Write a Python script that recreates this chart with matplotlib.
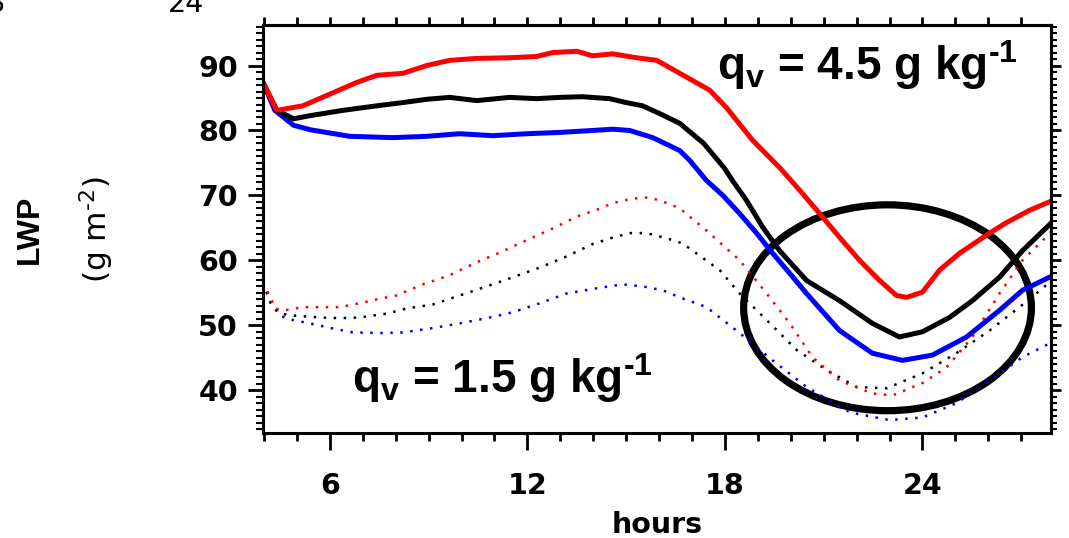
import matplotlib.pyplot as plt
from matplotlib.patches import Ellipse
from matplotlib.ticker import MultipleLocator, NullFormatter

plt.rcParams['font.family'] = 'DejaVu Sans'
plt.rcParams['font.weight'] = 'bold'
plt.rcParams['mathtext.fontset'] = 'custom'
plt.rcParams['mathtext.rm'] = 'DejaVu Sans'
plt.rcParams['mathtext.bf'] = 'Liberation Sans:bold'
plt.rcParams['mathtext.default'] = 'regular'

# solid lines (qv = 4.5 g/kg)
red_h = [3.97, 4.39, 5.18, 5.91, 6.82, 7.43, 8.22, 8.94, 9.64, 10.46, 11.46, 12.28, 12.77, 13.5,
         13.98, 14.59, 15.32, 15.93, 16.63, 17.54, 18.05, 18.84, 19.66, 20.27, 20.88, 21.49,
         22.09, 22.7, 23.21, 23.52, 24.0, 24.52, 25.13, 26.04, 26.55, 27.25, 27.9]
red_lwp = [87.4, 83.1, 83.8, 85.4, 87.4, 88.5, 88.8, 90.0, 90.8, 91.1, 91.2, 91.4, 92.0, 92.2,
           91.5, 91.8, 91.2, 90.8, 88.8, 86.2, 83.5, 78.5, 74.3, 70.8, 67.2, 63.5,
           60.0, 56.9, 54.6, 54.3, 55.1, 58.5, 61.1, 64.2, 65.8, 67.7, 69.1]

black_h = [3.97, 4.39, 4.9, 5.42, 6.4, 7.43, 8.22, 8.94, 9.64, 10.46, 11.46, 12.28, 12.98, 13.68,
           14.5, 15.0, 15.5, 16.02, 16.63, 17.36, 17.97, 18.23, 18.66, 19.15, 19.66, 20.48,
           21.48, 22.48, 23.3, 24.0, 24.82, 25.52, 26.34, 27.04, 27.9]
black_lwp = [87.4, 83.1, 81.8, 82.3, 83.1, 83.8, 84.3, 84.8, 85.1, 84.6, 85.1, 84.9, 85.1, 85.2,
             84.9, 84.3, 83.8, 82.6, 81.1, 78.0, 74.3, 72.3, 69.2, 65.1, 61.5, 56.9,
             53.8, 50.3, 48.2, 49.0, 51.2, 53.8, 57.4, 61.5, 65.7]

blue_h = [3.97, 4.33, 4.9, 5.42, 6.61, 7.92, 8.94, 9.94, 10.95, 11.98, 12.98, 13.98, 14.59, 15.11,
          15.81, 16.63, 16.93, 17.44, 17.94, 18.45, 18.96, 19.45, 19.97, 20.48, 21.48, 22.48,
          23.39, 24.3, 25.34, 26.34, 27.04, 27.9]
blue_lwp = [87.4, 83.1, 80.8, 80.1, 79.1, 78.9, 79.1, 79.5, 79.2, 79.5, 79.7, 80.0, 80.2, 80.0,
            78.9, 76.9, 75.4, 72.3, 70.0, 67.2, 64.2, 61.1, 58.0, 54.9, 49.2, 45.7,
            44.6, 45.4, 48.2, 52.3, 55.4, 57.5]

# dotted lines (qv = 1.5 g/kg)
red_dot_h = [3.97, 4.09, 4.24, 4.33, 4.63, 5.18, 6.3, 6.91, 7.43, 8.03, 8.82, 9.64, 10.46, 11.16,
             11.98, 12.77, 13.53, 14.11, 14.59, 15.17, 15.71, 16.26, 16.63, 17.44, 18.45, 19.27,
             19.97, 20.66, 21.48, 22.48, 23.09, 24.0, 24.73, 25.52, 26.34, 27.04, 27.9]
red_dot_lwp = [56.6, 55.4, 53.8, 52.6, 52.3, 52.8, 52.8, 53.4, 54.0, 54.6, 56.3, 57.7, 59.7, 61.2,
               63.1, 64.9, 66.8, 67.8, 68.8, 69.5, 69.7, 68.8, 68.0, 64.6, 60.0, 54.9,
               50.3, 45.1, 41.5, 39.5, 39.2, 41.1, 43.5, 48.2, 54.9, 60.0, 64.3]

black_dot_h = [3.97, 4.2, 4.48, 4.88, 5.7, 6.3, 6.91, 7.73, 8.34, 9.13, 9.95, 10.77, 11.56, 12.38,
               13.19, 13.98, 14.59, 15.11, 15.62, 16.23, 16.72, 17.84, 18.45, 19.27, 20.18,
               21.09, 22.0, 22.91, 24.0, 25.03, 26.04, 26.95, 27.65, 27.9]
black_dot_lwp = [56.6, 53.5, 51.8, 51.5, 51.2, 51.1, 51.2, 51.8, 52.6, 53.2, 54.6, 56.0, 57.4, 58.9,
                 60.6, 62.5, 63.5, 64.2, 64.2, 63.4, 62.6, 58.5, 54.9, 50.8, 46.2,
                 43.1, 40.5, 40.3, 42.6, 45.7, 49.2, 52.8, 55.7, 56.8]

blue_dot_h = [3.97, 4.2, 4.48, 4.79, 5.39, 5.91, 6.7, 7.61, 8.22, 9.04, 9.95, 10.77, 11.56, 12.38,
              13.19, 14.11, 14.89, 15.5, 16.11, 16.63, 17.44, 18.45, 19.45, 20.48, 21.79, 23.0,
              24.0, 25.03, 26.04, 27.04, 27.9]
blue_dot_lwp = [56.6, 53.5, 51.5, 50.9, 50.3, 49.7, 48.9, 48.8, 48.9, 49.5, 50.3, 51.1, 52.0, 53.4,
                54.9, 55.7, 56.3, 56.0, 55.4, 54.3, 52.8, 48.8, 44.6, 40.5, 36.6, 35.4,
                35.8, 38.0, 41.5, 45.1, 47.3]

# circled region
circle_center = (22.94, 52.7)
circle_w = 8.74
circle_h = 31.7

fig = plt.figure(figsize=(10.69, 5.38), dpi=100)
ax = fig.add_axes([0.246, 0.195, 0.737, 0.758])

dot = (0, (1, 3))
ax.plot(blue_dot_h, blue_dot_lwp, color='blue', lw=1.8, ls=dot)
ax.plot(black_dot_h, black_dot_lwp, color='black', lw=1.8, ls=dot)
ax.plot(red_dot_h, red_dot_lwp, color='red', lw=1.8, ls=dot)
ax.plot(blue_h, blue_lwp, color='blue', lw=3.6)
ax.plot(black_h, black_lwp, color='black', lw=3.6)
ax.plot(red_h, red_lwp, color='red', lw=3.6)

ax.add_patch(Ellipse(circle_center, circle_w, circle_h, fill=False, lw=5.2, color='black'))

ax.text(0.576, 0.865, 'q$_\\mathbf{v}$ = 4.5 g kg$^\\mathbf{\u2010 1}$', transform=ax.transAxes,
        family='Liberation Sans', fontsize=33, fontweight='bold', ha='left', va='baseline')
ax.text(0.113, 0.098, 'q$_\\mathbf{v}$ = 1.5 g kg$^\\mathbf{\u2010 1}$', transform=ax.transAxes,
        family='Liberation Sans', fontsize=33, fontweight='bold', ha='left', va='baseline')

ax.set_xlim(3.97, 27.9)
ax.set_ylim(33.4, 96.2)
ax.set_xticks([6, 12, 18, 24])
ax.xaxis.set_minor_locator(MultipleLocator(1))
ax.set_yticks([40, 50, 60, 70, 80, 90])
ax.yaxis.set_minor_locator(MultipleLocator(1))

for s in ax.spines.values():
    s.set_linewidth(2.2)

ax.tick_params(axis='x', which='major', direction='out', length=12, width=2, labelsize=20.5, pad=16)
ax.tick_params(axis='x', which='minor', direction='out', length=6, width=2)
ax.tick_params(axis='y', which='major', direction='out', length=11, width=2, labelsize=20.5, pad=7)
ax.tick_params(axis='y', which='minor', direction='out', length=5, width=1.5)

top = ax.secondary_xaxis('top')
top.set_xticks(range(4, 28))
top.xaxis.set_major_formatter(NullFormatter())
top.tick_params(direction='out', length=6, width=2)
top.spines['top'].set_linewidth(2.2)

right = ax.secondary_yaxis('right')
right.set_yticks([40, 50, 60, 70, 80, 90])
right.yaxis.set_minor_locator(MultipleLocator(1))
right.yaxis.set_major_formatter(NullFormatter())
right.tick_params(which='major', direction='out', length=7, width=2)
right.tick_params(which='minor', direction='out', length=4, width=1.5)
right.spines['right'].set_linewidth(2.2)

ax.set_xlabel('hours', fontsize=20.5, fontweight='bold', labelpad=8)

fig.text(30 / 1069, 0.574, 'LWP', rotation=90, ha='center', va='center',
         family='Liberation Sans', fontsize=23, fontweight='bold')
fig.text(97 / 1069, 0.574, '(g m$^{\u2010 2}$)', rotation=90, ha='center', va='center',
         fontsize=22.5, fontweight='normal')

# bits of the panel above that got cut off
fig.text(6 / 1069, 1 - 12 / 538, '18', ha='right', va='baseline', fontsize=20.5, fontweight='normal')
fig.text(186 / 1069, 1 - 12 / 538, '24', ha='center', va='baseline', fontsize=20.5, fontweight='normal')

fig.savefig('out.png', dpi=100)
